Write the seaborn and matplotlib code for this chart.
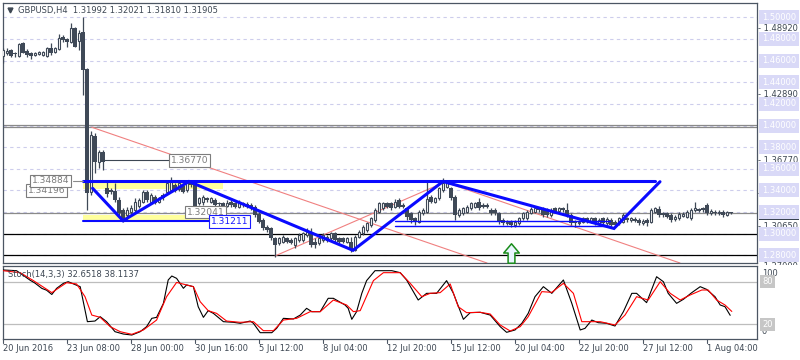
import matplotlib
matplotlib.use("Agg")
import matplotlib.pyplot as plt
import matplotlib.transforms as mtrans
import numpy as np
import seaborn as sns
from matplotlib.patches import Rectangle
from matplotlib.path import Path

sns.set_theme(style="white")
plt.rcParams["font.family"] = ["DejaVu Sans"]

INK = "#3d4753"
CANDLE = "#3f4957"
FRAME = "#4c5663"
GRID = "#cdcdec"
AXIS_BOX = "#d9d9f7"
BLUE = "#0a0aff"
RED = "#f08080"
YELLOW = "#ffff9c"
TAG_GRAY = "#7c7c7c"

TITLE = "GBPUSD,H4  1.31992 1.32021 1.31810 1.31905"
STOCH_TITLE = "Stoch(14,3,3) 32.6518 38.1137"

DATE_BARS = [0, 16, 32, 48, 64, 80, 96, 112, 128, 144, 160, 176]
DATE_LABELS = ["20 Jun 2016", "23 Jun 08:00", "28 Jun 00:00", "30 Jun 16:00",
               "5 Jul 12:00", "8 Jul 04:00", "12 Jul 20:00", "15 Jul 12:00",
               "20 Jul 04:00", "22 Jul 20:00", "27 Jul 12:00", "1 Aug 04:00"]

# H4 candles, one value per bar
opens = [
    1.4643, 1.4673, 1.4698, 1.4670, 1.4645, 1.4760, 1.4692, 1.4668, 1.4652, 1.4658,
    1.4652, 1.4643, 1.4714, 1.4682, 1.4704, 1.4821, 1.4797, 1.4775, 1.4899, 1.4784,
    1.4867, 1.4520, 1.3389, 1.3903, 1.3666, 1.3758, 1.3420, 1.3404, 1.3398, 1.3312,
    1.3220, 1.3173, 1.3204, 1.3220, 1.3257, 1.3296, 1.3389, 1.3296, 1.3343, 1.3296,
    1.3358, 1.3389, 1.3404, 1.3451, 1.3411, 1.3441, 1.3404, 1.3481, 1.3472, 1.3281,
    1.3296, 1.3330, 1.3296, 1.3312, 1.3281, 1.3281, 1.3257, 1.3296, 1.3281, 1.3245,
    1.3281, 1.3275, 1.3266, 1.3247, 1.3183, 1.3127, 1.3065, 1.3051, 1.2958, 1.2912,
    1.2927, 1.2958, 1.2942, 1.2896, 1.2942, 1.2942, 1.2989, 1.3019, 1.2927, 1.2912,
    1.2942, 1.2942, 1.2958, 1.3010, 1.2958, 1.2958, 1.2927, 1.2927, 1.2850, 1.2973,
    1.3004, 1.3035, 1.3081, 1.3127, 1.3204, 1.3235, 1.3281, 1.3281, 1.3250, 1.3312,
    1.3266, 1.3235, 1.3189, 1.3143, 1.3112, 1.3189, 1.3204, 1.3343, 1.3296, 1.3328,
    1.3404, 1.3435, 1.3420, 1.3343, 1.3173, 1.3189, 1.3204, 1.3235, 1.3250, 1.3296,
    1.3266, 1.3266, 1.3220, 1.3220, 1.3189, 1.3127, 1.3097, 1.3112, 1.3081, 1.3097,
    1.3143, 1.3143, 1.3195, 1.3204, 1.3235, 1.3235, 1.3220, 1.3173, 1.3235, 1.3213,
    1.3235, 1.3220, 1.3173, 1.3112, 1.3097, 1.3112, 1.3143, 1.3112, 1.3143, 1.3097,
    1.3143, 1.3097, 1.3127, 1.3112, 1.3097, 1.3112, 1.3143, 1.3127, 1.3134, 1.3127,
    1.3097, 1.3127, 1.3112, 1.3204, 1.3226, 1.3189, 1.3189, 1.3173, 1.3134, 1.3143,
    1.3164, 1.3158, 1.3143, 1.3220, 1.3226, 1.3235, 1.3266, 1.3189, 1.3204, 1.3189,
    1.3204, 1.3173, 1.31992,
]
highs = [
    1.4716, 1.4714, 1.4704, 1.4682, 1.4765, 1.4775, 1.4704, 1.4682, 1.4680, 1.4684,
    1.4693, 1.4726, 1.4760, 1.4726, 1.4846, 1.4837, 1.4806, 1.4945, 1.4913, 1.4883,
    1.5006, 1.4532, 1.3950, 1.3931, 1.3774, 1.3774, 1.3481, 1.3423, 1.3469, 1.3343,
    1.3238, 1.3250, 1.3266, 1.3328, 1.3330, 1.3404, 1.3404, 1.3377, 1.3358, 1.3343,
    1.3374, 1.3481, 1.3522, 1.3469, 1.3481, 1.3460, 1.3497, 1.3497, 1.3481, 1.3343,
    1.3358, 1.3343, 1.3343, 1.3328, 1.3296, 1.3296, 1.3312, 1.3312, 1.3296, 1.3312,
    1.3296, 1.3293, 1.3281, 1.3266, 1.3201, 1.3143, 1.3081, 1.3065, 1.2973, 1.2973,
    1.2989, 1.2973, 1.2958, 1.2973, 1.3004, 1.3019, 1.3051, 1.3051, 1.2958, 1.2973,
    1.3004, 1.2989, 1.3019, 1.3019, 1.2973, 1.2973, 1.2973, 1.2973, 1.2989, 1.3035,
    1.3081, 1.3112, 1.3158, 1.3235, 1.3296, 1.3296, 1.3296, 1.3296, 1.3318, 1.3328,
    1.3281, 1.3250, 1.3204, 1.3158, 1.3220, 1.3235, 1.3481, 1.3358, 1.3343, 1.3435,
    1.3515, 1.3497, 1.3435, 1.3358, 1.3235, 1.3250, 1.3266, 1.3296, 1.3296, 1.3328,
    1.3281, 1.3281, 1.3235, 1.3235, 1.3204, 1.3143, 1.3127, 1.3127, 1.3127, 1.3158,
    1.3204, 1.3220, 1.3247, 1.3250, 1.3250, 1.3250, 1.3235, 1.3235, 1.3250, 1.3250,
    1.3250, 1.3281, 1.3189, 1.3127, 1.3127, 1.3158, 1.3158, 1.3158, 1.3158, 1.3143,
    1.3158, 1.3155, 1.3143, 1.3127, 1.3158, 1.3189, 1.3158, 1.3158, 1.3155, 1.3143,
    1.3137, 1.3143, 1.3235, 1.3250, 1.3257, 1.3204, 1.3204, 1.3189, 1.3173, 1.3201,
    1.3201, 1.3220, 1.3235, 1.3296, 1.3238, 1.3250, 1.3281, 1.3229, 1.3220, 1.3220,
    1.3220, 1.3210, 1.32021,
]
lows = [
    1.4578, 1.4652, 1.4636, 1.4636, 1.4636, 1.4668, 1.4636, 1.4612, 1.4643, 1.4652,
    1.4643, 1.4633, 1.4652, 1.4670, 1.4698, 1.4775, 1.4728, 1.4765, 1.4723, 1.4698,
    1.4282, 1.3220, 1.3358, 1.3562, 1.3608, 1.3589, 1.3343, 1.3367, 1.3296, 1.3173,
    1.3112, 1.3127, 1.3173, 1.3204, 1.3238, 1.3281, 1.3296, 1.3284, 1.3275, 1.3284,
    1.3312, 1.3374, 1.3389, 1.3386, 1.3395, 1.3377, 1.3389, 1.3435, 1.3235, 1.3266,
    1.3266, 1.3296, 1.3281, 1.3250, 1.3257, 1.3238, 1.3247, 1.3250, 1.3235, 1.3235,
    1.3250, 1.3238, 1.3220, 1.3158, 1.3097, 1.3035, 1.3019, 1.2942, 1.2788, 1.2896,
    1.2912, 1.2912, 1.2905, 1.2866, 1.2927, 1.2927, 1.2973, 1.2880, 1.2866, 1.2896,
    1.2927, 1.2927, 1.2942, 1.2927, 1.2912, 1.2912, 1.2912, 1.2834, 1.2841, 1.2958,
    1.2989, 1.3019, 1.3065, 1.3112, 1.3189, 1.3220, 1.3235, 1.3220, 1.3235, 1.3235,
    1.3235, 1.3127, 1.3097, 1.3081, 1.3097, 1.3173, 1.3189, 1.3281, 1.3281, 1.3312,
    1.3389, 1.3423, 1.3312, 1.3127, 1.3158, 1.3173, 1.3189, 1.3220, 1.3235, 1.3220,
    1.3235, 1.3235, 1.3173, 1.3173, 1.3090, 1.3081, 1.3081, 1.3065, 1.3065, 1.3081,
    1.3127, 1.3127, 1.3183, 1.3189, 1.3204, 1.3158, 1.3158, 1.3158, 1.3189, 1.3201,
    1.3204, 1.3158, 1.3081, 1.3060, 1.3081, 1.3097, 1.3097, 1.3097, 1.3081, 1.3081,
    1.3081, 1.3081, 1.3065, 1.3060, 1.3081, 1.3097, 1.3112, 1.3112, 1.3109, 1.3081,
    1.3081, 1.3072, 1.3097, 1.3189, 1.3158, 1.3158, 1.3143, 1.3112, 1.3118, 1.3127,
    1.3152, 1.3143, 1.3127, 1.3204, 1.3201, 1.3204, 1.3173, 1.3173, 1.3173, 1.3173,
    1.3158, 1.3164, 1.31810,
]
closes = [
    1.4698, 1.4693, 1.4643, 1.4658, 1.4753, 1.4673, 1.4655, 1.4643, 1.4670, 1.4677,
    1.4682, 1.4714, 1.4668, 1.4714, 1.4806, 1.4790, 1.4775, 1.4899, 1.4728, 1.4858,
    1.4513, 1.3374, 1.3913, 1.3666, 1.3758, 1.3666, 1.3367, 1.3389, 1.3312, 1.3195,
    1.3127, 1.3220, 1.3235, 1.3296, 1.3312, 1.3389, 1.3312, 1.3358, 1.3287, 1.3328,
    1.3328, 1.3466, 1.3481, 1.3398, 1.3466, 1.3389, 1.3481, 1.3451, 1.3250, 1.3328,
    1.3343, 1.3312, 1.3328, 1.3266, 1.3275, 1.3257, 1.3287, 1.3266, 1.3245, 1.3296,
    1.3266, 1.3250, 1.3235, 1.3173, 1.3112, 1.3051, 1.3035, 1.2958, 1.2896, 1.2958,
    1.2973, 1.2927, 1.2917, 1.2958, 1.2989, 1.3004, 1.3019, 1.2896, 1.2896, 1.2958,
    1.2989, 1.2973, 1.3004, 1.2942, 1.2927, 1.2927, 1.2958, 1.2850, 1.2973, 1.3019,
    1.3065, 1.3097, 1.3143, 1.3220, 1.3281, 1.3281, 1.3250, 1.3235, 1.3296, 1.3250,
    1.3250, 1.3158, 1.3127, 1.3112, 1.3204, 1.3220, 1.3318, 1.3296, 1.3328, 1.3420,
    1.3466, 1.3466, 1.3328, 1.3173, 1.3220, 1.3235, 1.3250, 1.3281, 1.3281, 1.3235,
    1.3250, 1.3250, 1.3189, 1.3189, 1.3112, 1.3097, 1.3112, 1.3081, 1.3112, 1.3143,
    1.3189, 1.3204, 1.3226, 1.3235, 1.3220, 1.3173, 1.3173, 1.3220, 1.3204, 1.3235,
    1.3220, 1.3173, 1.3097, 1.3097, 1.3112, 1.3143, 1.3112, 1.3143, 1.3097, 1.3127,
    1.3097, 1.3134, 1.3081, 1.3081, 1.3143, 1.3173, 1.3127, 1.3143, 1.3121, 1.3097,
    1.3121, 1.3097, 1.3220, 1.3235, 1.3173, 1.3173, 1.3158, 1.3127, 1.3158, 1.3183,
    1.3183, 1.3204, 1.3220, 1.3235, 1.3213, 1.3220, 1.3189, 1.3213, 1.3189, 1.3204,
    1.3173, 1.3199, 1.31905,
]

# Stochastic (14,3,3): %K (black) and %D (red), read as line vertices
K_BARS = [0, 3.4, 6.8, 8, 9.7, 10.9, 12.2, 13.4, 15.1, 16.3,
          18.4, 19.3, 21.1, 23, 24.3, 25.9, 28, 30.1, 32.2, 34.3,
          35.9, 37.2, 38.4, 40.1, 41.3, 42.2, 43.4, 45.1, 45.9, 47.6,
          48.8, 50.1, 51.3, 52.6, 55.1, 57.6, 59.3, 61.8, 62.6, 64.3,
          67.2, 68.4, 70.1, 72.6, 74.3, 75.9, 77.2, 79.3, 81.3, 82.6,
          85.5, 86.3, 87.2, 88.4, 89.7, 90.9, 93, 95.1, 97.2, 99.3,
          100.9, 103.8, 105.9, 108.4, 110.9, 112.6, 115.1, 116.8, 119.3, 121.8,
          124.3, 125.9, 128, 129.7, 131.3, 133, 135.1, 137.2, 140.1, 142.2,
          144.3, 145.5, 147.2, 148.8, 150.9, 153, 155.1, 157.2, 158.4, 160.9,
          163.4, 165.1, 166.3, 168.4, 170.1, 172.2, 174.3, 175.9, 178, 179.3,
          180.5, 181.8]
K_VALUES = [96.5, 95.5, 82, 78, 70.6, 68, 62, 70.6, 77.7, 80,
            75, 73, 23.7, 24.6, 30.7, 23.7, 9.6, 6.3, 4.9, 9.6,
            16.7, 28.4, 29.8, 49.5, 82.4, 88, 84.7, 70.7, 75.4, 73,
            44.8, 29.8, 39.2, 35.4, 23.7, 22.8, 21.4, 24.6, 21.4, 8.2,
            8.2, 14.3, 28.4, 27.5, 33, 42.5, 37.8, 37.8, 56.6, 56.6,
            47.2, 42.5, 27, 37.8, 63.6, 81.5, 95.5, 95.5, 95.5, 92.7,
            82.4, 54.2, 63.6, 63.6, 81.5, 63.6, 27, 36.4, 36.9, 33,
            16.7, 8.7, 12, 21.4, 35.4, 58.9, 73, 63.6, 82.4, 49.5,
            12, 14.3, 26, 22.3, 21.4, 17.6, 37.8, 63.6, 63.6, 50.5,
            87, 80, 63.6, 49.5, 55.2, 64.6, 73, 69.2, 58.9, 47.2,
            44.8, 32.65]
D_BARS = [0, 4.3, 7.6, 12.2, 15.9, 18.4, 20.5, 22.2, 24.3, 26.8,
          29.3, 32.2, 35.1, 38.4, 40.9, 43.4, 45.9, 47.6, 49.3, 51.3,
          53.4, 55.9, 59.3, 62.6, 65.1, 67.6, 70.1, 73.4, 76.8, 79.3,
          82.6, 85.9, 87.6, 89.3, 92.6, 95.1, 99.3,
          101.8, 104.7, 106.8, 109.3, 111.8, 113.8, 115.9, 119.3, 121.8,
          124.3, 126.8, 129.3, 131.3, 134.7, 137.2, 140.1, 142.6, 144.7, 147.2,
          149.3, 153, 155.5, 158.4, 161.3, 164.3, 166.8, 169.3, 171.8, 174.7,
          176.3, 178.4, 180.5, 182.2]
D_VALUES = [95.5, 92.7, 81.5, 64.6, 78.6, 76.8, 58.9, 33, 29.8, 16.7,
            9.6, 5.9, 12, 26, 58.9, 79, 75.4, 73, 51.8, 39.2,
            35.4, 24.6, 22.8, 23.7, 11, 11, 26, 28.4, 37.8, 37.8,
            54.2, 47.2, 37.8, 39.2, 81.5, 92.7, 92.7,
            77.7, 58.9, 63.6, 64.6, 76.8, 44.8, 36.4, 36.9, 34.5,
            19, 10.6, 16.7, 30.7, 66, 65, 77.7, 63.6, 23.7, 23.7,
            23.7, 19, 33, 58.9, 54.2, 80, 63.6, 54.2, 61.3, 68.3,
            68.3, 54.2, 47.2, 38.11]

# drawn objects on the price chart
ZIGZAG_BARS = [22.4, 30, 46.5, 87.5, 110, 152.75, 164.25]
ZIGZAG_PRICES = [1.3420, 1.3121, 1.3483, 1.2847, 1.3483, 1.3049, 1.3481]
RESIST_PRICE = 1.34884
RESIST_BARS = (20, 163)
SUPPORT_PRICE = 1.31211
SUPPORT_BARS = (20, 51.9)
THIN_BLUE_PRICES = [1.3115, 1.3076]
THIN_BLUE_BARS = (98, 151.75)
YELLOW_ZONES = [(20, 55, 1.3418, 1.3491), (20, 51.9, 1.3127, 1.3173)]
RED_LINES = [((22.2, 1.3984), (121, 1.2730)),
             ((110, 1.3483), (169.25, 1.2730)),
             ((68, 1.2795), (110.5, 1.3478))]
GRAY_LEVELS = [1.4002, 1.3982, 1.3196]
BLACK_LEVELS = [1.3000, 1.2800]
GRID_LEVELS = [1.50, 1.48, 1.46, 1.44, 1.42, 1.40, 1.38, 1.36, 1.34, 1.32, 1.30, 1.28]
EXTRA_AXIS_LEVELS = [1.48920, 1.42890, 1.36770, 1.33710, 1.30650, 1.27000]
BID = 1.31905
TAG_TEXT = ["1.34196", "1.34884", "1.36770", "1.32041", "1.31211"]
TAG_BAR = [6.2, 7.2, 42.0, 46.0, 51.9]
TAG_PRICE = [1.3400, 1.34884, 1.3677, 1.3201, 1.3113]
TAG_BLUE = [False, False, False, False, True]
ARROW_BAR, ARROW_PRICE = 127.0, 1.2818

bars = np.arange(len(closes))
o, h, l, c = (np.array(v) for v in (opens, highs, lows, closes))

fig = plt.figure(figsize=(8, 3.6), dpi=100)
fig.patch.set_facecolor("white")
ax = fig.add_axes([3 / 800, 97 / 360, 754 / 800, 260 / 360])
ax_st = fig.add_axes([3 / 800, 21 / 360, 754 / 800, 73 / 360])
ax_st.set_zorder(2)
for a in (ax, ax_st):
    a.set_facecolor("white")
    a.set_xticks([])
    a.set_yticks([])
    a.set_xlim(0, 188.5)
    for s in a.spines.values():
        s.set_color(FRAME)
        s.set_linewidth(0.9)
ax.set_ylim(1.2730, 1.5132)
ax_st.set_ylim(-0.7, 102.1)

# grid and horizontal levels
for p in GRID_LEVELS:
    ax.axhline(p, color=GRID, lw=0.8, ls=(0, (3, 3)), zorder=0.5)
for p in GRAY_LEVELS:
    ax.axhline(p, color="#8a8a8a", lw=0.9, zorder=1.5)
for p in BLACK_LEVELS:
    ax.axhline(p, color="black", lw=0.9, zorder=1.5)

for x0, x1, y0, y1 in YELLOW_ZONES:
    ax.add_patch(Rectangle((x0, y0), x1 - x0, y1 - y0, fc=YELLOW, ec="none", zorder=1))

for (x0, y0), (x1, y1) in RED_LINES:
    ax.plot([x0, x1], [y0, y1], color=RED, lw=0.8, zorder=2)

# candles
up = c >= o
lo = np.minimum(o, c)
hgt = np.maximum(np.abs(c - o), 0.00025)
ax.vlines(bars, l, h, color=CANDLE, lw=0.9, zorder=3)
ax.bar(bars[~up], hgt[~up], bottom=lo[~up], width=0.8, color=CANDLE, lw=0, zorder=3.1)
ax.bar(bars[up], hgt[up], bottom=lo[up], width=0.62, color="white", edgecolor=CANDLE,
       lw=0.8, zorder=3.1)

# blue pattern lines
ax.plot(ZIGZAG_BARS, ZIGZAG_PRICES, color=BLUE, lw=2.2, zorder=4, solid_joinstyle="miter")
ax.plot(RESIST_BARS, [RESIST_PRICE] * 2, color=BLUE, lw=2.2, zorder=4)
ax.plot(SUPPORT_BARS, [SUPPORT_PRICE] * 2, color=BLUE, lw=1.5, zorder=4)
for p in THIN_BLUE_PRICES:
    ax.plot(THIN_BLUE_BARS, [p, p], color=BLUE, lw=1.0, zorder=4)

# 1.36770 level segment and tag connectors
ax.plot([24.5, 42.0], [1.3677, 1.3677], color=INK, lw=0.8, zorder=4)
ax.plot([17.5, 20.0], [1.34884, 1.34884], color="#8a8a8a", lw=0.8, zorder=4)

for txt, bx, py, blue in zip(TAG_TEXT, TAG_BAR, TAG_PRICE, TAG_BLUE):
    col = "#1a1aff" if blue else TAG_GRAY
    ax.text(bx, py, txt, color=col, fontsize=6.6, ha="left", va="center", zorder=5,
            bbox=dict(boxstyle="square,pad=0.18", fc="white", ec=col, lw=0.8))

# green up arrow
arrow = Path([(-0.8, 0.05), (0, 1), (0.8, 0.05), (0.35, 0.05), (0.35, -1),
              (-0.35, -1), (-0.35, 0.05), (-0.8, 0.05)],
             [Path.MOVETO] + [Path.LINETO] * 6 + [Path.CLOSEPOLY])
ax.plot([ARROW_BAR], [ARROW_PRICE], marker=arrow, ms=14, mfc="#eaf5ff", mec="#1a8c1a",
        mew=1.1, zorder=5)

# header
ax.plot([0.009], [0.972], marker="v", ms=3.5, color=INK, transform=ax.transAxes)
ax.text(0.02, 0.972, TITLE, transform=ax.transAxes, fontsize=6, color=INK,
        ha="left", va="center")

# right price scale
ytr = ax.get_yaxis_transform()
for p in EXTRA_AXIS_LEVELS:
    ax.text(1.001, p, "- " + f"{p:.5f}", transform=ytr, fontsize=6, color=INK,
            ha="left", va="center", clip_on=False, zorder=6)
ax.text(1.0066, BID, f"{BID:.5f}", transform=ytr, fontsize=6, color="white",
        ha="left", va="center", clip_on=False, zorder=6.5,
        bbox=dict(boxstyle="square,pad=0.3", fc="#3a4450", ec="none"))
for p in GRID_LEVELS:
    ax.text(1.0066, p, f"{p:.5f}", transform=ytr, fontsize=6, color="white",
            ha="left", va="center", clip_on=False, zorder=7,
            bbox=dict(boxstyle="square,pad=0.3", fc=AXIS_BOX, ec="none"))

# cover right scale between the panels
fig.patches.append(Rectangle((757.5 / 800, 0), 42.5 / 800, 95.5 / 360,
                             transform=fig.transFigure, fc="white", ec="none", zorder=1))

# stochastic panel
for lev in (20, 80):
    ax_st.axhline(lev, color="#bdbdbd", lw=0.9, zorder=1)
sns.lineplot(x=K_BARS, y=K_VALUES, ax=ax_st, color="black", lw=0.8, zorder=3)
sns.lineplot(x=D_BARS, y=D_VALUES, ax=ax_st, color="#ff0000", lw=0.8, zorder=4)
ax_st.set_xlabel("")
ax_st.set_ylabel("")
ax_st.set_xticks([])
ax_st.set_yticks([])
ax_st.text(0.006, 0.89, STOCH_TITLE, transform=ax_st.transAxes, fontsize=6,
           color=INK, ha="left", va="center", zorder=5)

str_ = ax_st.get_yaxis_transform()
ax_st.text(1.0066, 98, "100", transform=str_, fontsize=6, color=INK, ha="left",
           va="top", clip_on=False)
ax_st.text(1.0066, 3, "0", transform=str_, fontsize=6, color=INK, ha="left",
           va="bottom", clip_on=False)
for lev in (80, 20):
    ax_st.text(1.0066, lev, str(lev), transform=str_, fontsize=6, color="white",
               ha="left", va="center", clip_on=False,
               bbox=dict(boxstyle="square,pad=0.25", fc="#c6c6c6", ec="none"))

# time axis
btr = mtrans.blended_transform_factory(ax_st.transData, ax_st.transAxes)
for b, lab in zip(DATE_BARS, DATE_LABELS):
    ax_st.plot([b, b], [0, -0.05], color=FRAME, lw=0.8, transform=btr, clip_on=False)
    ax_st.text(b, -0.075, lab, transform=btr, fontsize=6, color=INK, ha="left",
               va="top", clip_on=False)

fig.savefig("out.png", dpi=100, facecolor="white")
